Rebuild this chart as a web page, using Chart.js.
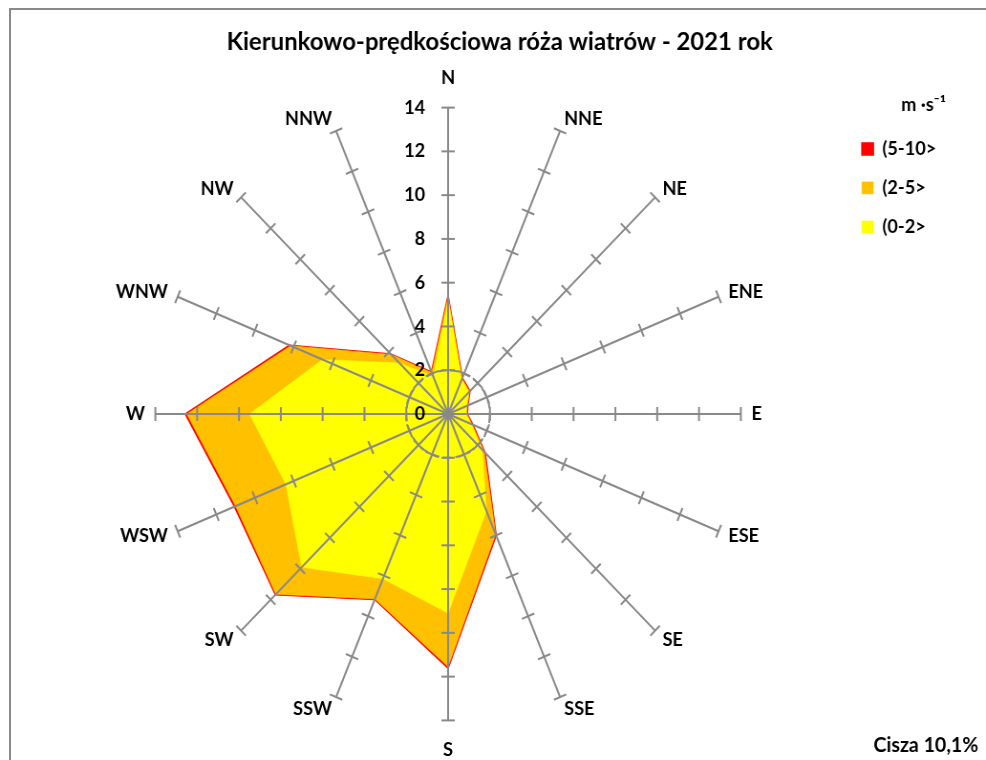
<!DOCTYPE html>
<html><head><meta charset="utf-8">
<script src="https://cdn.jsdelivr.net/npm/chart.js@4.4.1/dist/chart.umd.min.js"></script>
<style>
html,body{margin:0;padding:0;background:#fff;overflow:hidden;}
#frame{position:absolute;left:9px;top:8px;width:990px;height:770px;border-top:2px solid #8a8a8a;border-left:2px solid #8a8a8a;}
#wrap{position:absolute;left:0;top:0;width:1032px;height:760px;transform:scaleX(0.9554);transform-origin:0 0;}
</style></head><body>
<div id="frame"></div>
<div id="wrap"><canvas id="c"></canvas></div>
<script>
const directions = ['N','NNE','NE','ENE','E','ESE','SE','SSE','S','SSW','SW','WSW','W','WNW','NW','NNW'];
const freq0to2  = [5.25,1.7,1.4,0.95,0.85,1.2,2.3,4.8,9.1,8.15,9.9,8.4,9.5,6.5,3.3,1.85];
const freq2to5  = [0.1,0.05,0.05,0.05,0.05,0.05,0.15,1.15,2.45,1.0,1.75,2.6,3.0,1.65,0.55,0.2];
const freq5to10 = [0.06,0.03,0.03,0.02,0.02,0.04,0.06,0.06,0.06,0.02,0.03,0.06,0.07,0.07,0.03,0.03];
const seriesLabels = ['(0-2>','(2-5>','(5-10>'];
const seriesColors = ['#FFFF00','#FFC000','#FF0000'];
const radialTicks = [0,2,4,6,8,10,12,14];
const chartTitle = 'Kierunkowo-prędkościowa róża wiatrów - 2021 rok';
const unitLabel = 'm ·s⁻¹';
const calmLabel = 'Cisza 10,1%';

// cumulative outlines of the stacked rose
const cum1 = freq0to2.slice();
const cum2 = cum1.map((v,i)=>v+freq2to5[i]);
const cum3 = cum2.map((v,i)=>v+freq5to10[i]);

const FONT = 'Lato, "Liberation Sans", sans-serif';
const GRAY = '#898989';

const axisTicksPlugin = {
  id: 'axisTicks',
  afterDraw(chart) {
    const s = chart.scales.r;
    const ctx = chart.ctx;
    ctx.save();
    ctx.strokeStyle = GRAY; ctx.lineWidth = 2;
    for (let i = 0; i < directions.length; i++) {
      const a = s.getIndexAngle(i) - Math.PI/2;
      const px = -Math.sin(a), py = Math.cos(a);
      radialTicks.forEach(v => {
        if (v === 0) return;
        const p = s.getPointPositionForValue(i, v);
        ctx.beginPath();
        ctx.moveTo(p.x - px*7, p.y - py*7);
        ctx.lineTo(p.x + px*7, p.y + py*7);
        ctx.stroke();
      });
    }
    ctx.fillStyle = '#000';
    ctx.font = 'bold 19px ' + FONT;
    ctx.textBaseline = 'middle';
    // radial tick labels, to the left of the N axis
    ctx.textAlign = 'right';
    radialTicks.forEach(v => {
      const p = s.getPointPositionForValue(0, v);
      ctx.fillText(String(v), s.xCenter - 24, p.y);
    });
    // direction labels, placed beyond each axis end
    directions.forEach((lab, i) => {
      const th = s.getIndexAngle(i);
      const sn = Math.sin(th), cs = Math.cos(th);
      const end = s.getPointPositionForValue(i, s.max);
      let x = end.x, y = end.y;
      if (Math.abs(sn) < 1e-6) { ctx.textAlign = 'center'; y += cs > 0 ? -30 : 29; }
      else { ctx.textAlign = sn > 0 ? 'left' : 'right'; x += sn * 11; y -= cs * 12.5; }
      ctx.fillText(lab, x, y);
    });
    ctx.textAlign = 'right';
    ctx.font = 'bold 20.5px ' + FONT;
    ctx.fillText(calmLabel, chart.width - 8, 745);
    ctx.restore();
  }
};

new Chart(document.getElementById('c'), {
  type: 'radar',
  data: {
    labels: directions,
    datasets: [
      {label: seriesLabels[0], data: cum1, backgroundColor: seriesColors[0], borderColor: seriesColors[0], borderWidth: 0.5, fill: 'origin', pointRadius: 0},
      {label: seriesLabels[1], data: cum2, backgroundColor: seriesColors[1], borderColor: seriesColors[1], borderWidth: 0.5, fill: 'origin', pointRadius: 0},
      {label: seriesLabels[2], data: cum3, backgroundColor: seriesColors[2], borderColor: seriesColors[2], borderWidth: 1.5, fill: 'origin', pointRadius: 0}
    ]
  },
  options: {
    responsive: true, maintainAspectRatio: false, animation: false,
    layout: {padding: {top: 14, left: 56, right: 42, bottom: 0}},
    plugins: {
      title: {display: true, text: chartTitle, color: '#000', font: {family: FONT, size: 25, weight: 'bold'}, padding: {top: 13, bottom: 11.8}},
      legend: {
        position: 'right', align: 'start', reverse: true,
        title: {display: true, text: unitLabel, position: 'end', color: '#000', font: {family: FONT, size: 19, weight: 'bold'}, padding: {top: 81.5, bottom: 1.1}},
        labels: {boxWidth: 12, boxHeight: 12, padding: 20, color: '#000', font: {family: FONT, size: 19, weight: 'bold'}}
      },
      tooltip: {enabled: false}
    },
    scales: {
      r: {
        min: 0, max: 14,
        ticks: {display: false, stepSize: 2},
        grid: {z: 1, circular: true, lineWidth: 2, color: c => (c.tick && c.tick.value === 2) ? GRAY : 'rgba(0,0,0,0)'},
        border: {dash: [9, 4]},
        angleLines: {color: GRAY, lineWidth: 2},
        pointLabels: {padding: 16, color: 'rgba(0,0,0,0)', font: {family: FONT, size: 19, weight: 'bold'}}
      }
    }
  },
  plugins: [axisTicksPlugin]
});
</script>
</body></html>
